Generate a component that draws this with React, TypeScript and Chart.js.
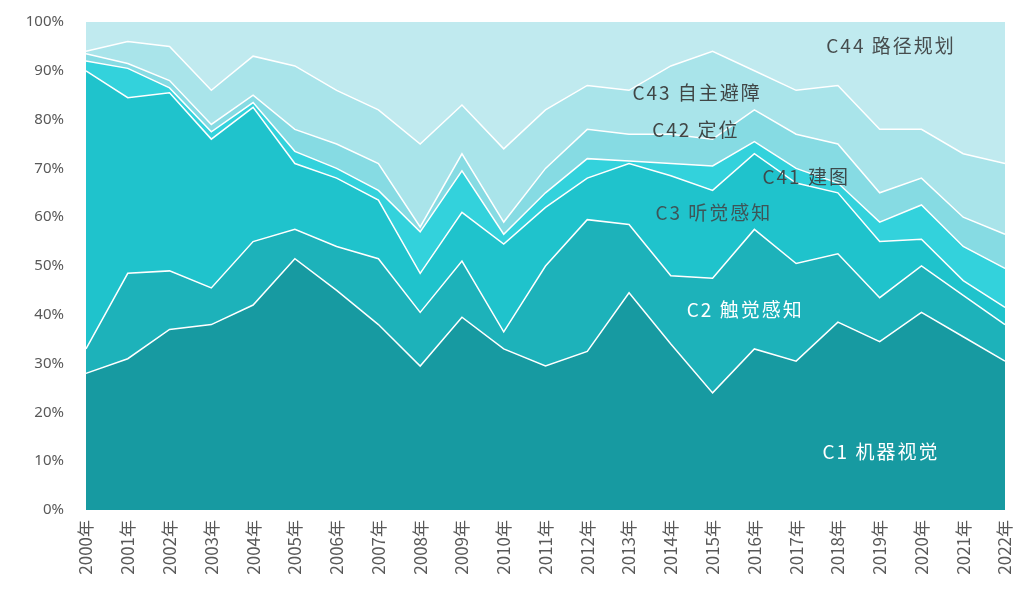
import { useEffect, useRef } from 'react';
import { Chart, registerables } from 'chart.js';

Chart.register(...registerables);

const years = ['2000年', '2001年', '2002年', '2003年', '2004年', '2005年', '2006年', '2007年', '2008年', '2009年', '2010年', '2011年', '2012年', '2013年', '2014年', '2015年', '2016年', '2017年', '2018年', '2019年', '2020年', '2021年', '2022年'];

const seriesNames = ['C1 机器视觉', 'C2 触觉感知', 'C3 听觉感知', 'C41 建图', 'C42 定位', 'C43 自主避障', 'C44 路径规划'];

const c1 = [28, 31, 37, 38, 42, 51.5, 45, 38, 29.5, 39.5, 33, 29.5, 32.5, 44.5, 34, 24, 33, 30.5, 38.5, 34.5, 40.5, 35.5, 30.5];
const c2 = [5, 17.5, 12, 7.5, 13, 6, 9, 13.5, 11, 11.5, 3.5, 20.5, 27, 14, 14, 23.5, 24.5, 20, 14, 9, 9.5, 8.5, 7.5];
const c3 = [57, 36, 36.5, 30.5, 27.5, 13.5, 14, 12, 8, 10, 18, 12, 8.5, 12.5, 20.5, 18, 15.5, 16.5, 12.5, 11.5, 5.5, 3, 3.5];
const c41 = [2, 6, 1, 1.5, 1, 2.5, 2, 2, 8.5, 8.5, 2, 3, 4, 0.5, 2.5, 5, 2.5, 3, 2, 4, 7, 7, 8];
const c42 = [1.5, 1, 1.5, 1.5, 1.5, 4.5, 5, 5.5, 1, 3.5, 2.5, 5, 6, 5.5, 6, 5.5, 6.5, 7, 8, 6, 5.5, 6, 7];
const c43 = [0.5, 4.5, 7, 7, 8, 13, 11, 11, 17, 10, 15, 12, 9, 9, 14, 18, 8, 9, 12, 13, 10, 13, 14.5];
const c44 = [6, 4, 5, 14, 7, 9, 14, 18, 25, 17, 26, 18, 13, 14, 9, 6, 10, 14, 13, 22, 22, 27, 29];

const seriesValues = [c1, c2, c3, c41, c42, c43, c44];
const areaColors = ['#179aa1', '#1db2ba', '#1fc3cc', '#33d2dc', '#86dbe3', '#a9e4ea', '#c0eaef'];

// in-chart series labels: category index and percentage value
const labelIndex = [19.03, 15.78, 15.03, 17.24, 14.6, 14.63, 19.27];
const labelValue = [11.9, 41, 60.9, 68.2, 77.9, 85.5, 95.1];
const labelColors = ['#ffffff', '#ffffff', '#3d5558', '#3d4a4c', '#404646', '#404646', '#474d4e'];

const labelPlugin = {
  id: 'seriesLabels',
  afterDatasetsDraw(chart: any) {
    const ctx = chart.ctx;
    const xs = chart.scales.x;
    const ys = chart.scales.y;
    ctx.save();
    ctx.font = '19px "Noto Sans CJK SC", "Noto Sans", sans-serif';
    ctx.textAlign = 'center';
    ctx.textBaseline = 'middle';
    try { (ctx as any).letterSpacing = '2px'; } catch (e) {}
    seriesNames.forEach((name, i) => {
      ctx.fillStyle = labelColors[i];
      ctx.fillText(name, xs.getPixelForValue(labelIndex[i]), ys.getPixelForValue(labelValue[i]));
    });
    ctx.restore();
  },
};

export default function App() {
  const ref = useRef<HTMLCanvasElement>(null);
  useEffect(() => {
    document.body.style.margin = '0';
    const chart = new Chart(ref.current as HTMLCanvasElement, {
      type: 'line',
      data: {
        labels: years,
        datasets: seriesValues.map((vals, i) => ({
          label: seriesNames[i],
          data: vals,
          backgroundColor: areaColors[i],
          borderColor: '#ffffff',
          borderWidth: i === 6 ? 0 : 1.5,
          fill: i === 0 ? 'origin' : '-1',
          pointRadius: 0,
          tension: 0,
        })),
      },
      options: {
        animation: false,
        responsive: false,
        maintainAspectRatio: false,
        layout: { padding: { left: 0, right: 14, top: 22, bottom: 0 } },
        plugins: { legend: { display: false }, tooltip: { enabled: false } },
        scales: {
          x: {
            offset: false,
            grid: { display: false, drawTicks: false },
            border: { display: false },
            ticks: {
              autoSkip: false,
              minRotation: 90,
              maxRotation: 90,
              padding: 10,
              color: '#595959',
              font: { family: '"Noto Sans CJK SC", "Noto Sans", sans-serif', size: 17 },
            },
            afterFit: (s: any) => { s.height = 94; s.paddingLeft = 0; s.paddingRight = 10; },
          },
          y: {
            stacked: true,
            min: 0,
            max: 100,
            grid: { display: false, drawTicks: false },
            border: { display: false },
            ticks: {
              stepSize: 10,
              padding: 22,
              color: '#595959',
              font: { family: '"Noto Sans", "Noto Sans CJK SC", sans-serif', size: 15 },
              callback: (v: any) => v + '%',
            },
            afterFit: (s: any) => { s.width = 86; s.paddingTop = 9; s.paddingBottom = 9; },
          },
        },
      },
      plugins: [labelPlugin],
    });
    return () => chart.destroy();
  }, []);
  return <canvas ref={ref} width={1019} height={604} style={{ display: 'block' }} />;
}
